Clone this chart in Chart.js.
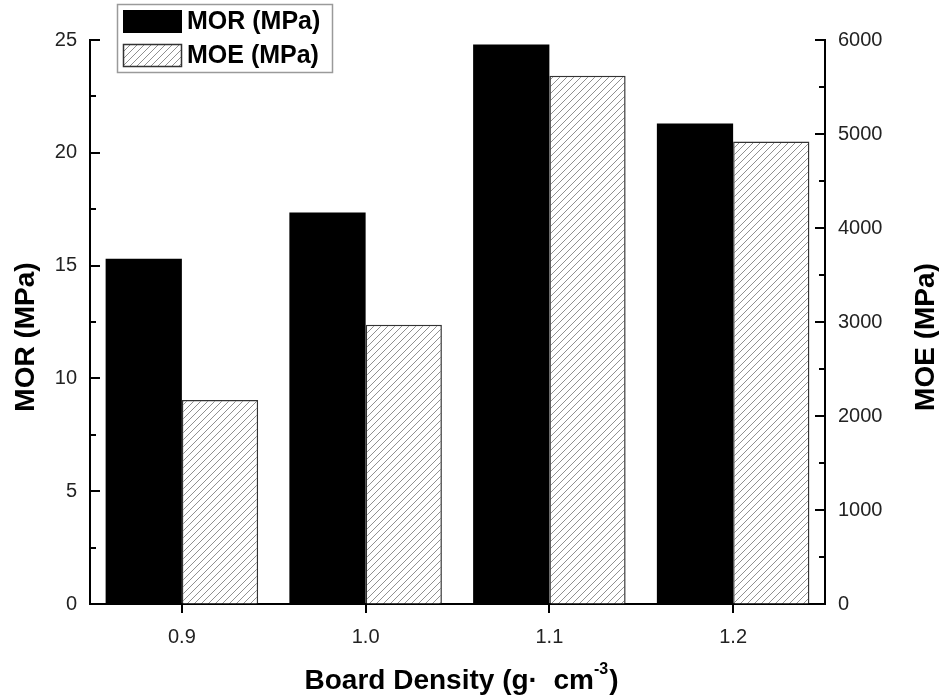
<!DOCTYPE html>
<html><head><meta charset="utf-8">
<script src="https://cdn.jsdelivr.net/npm/chart.js@4"></script>
<style>html,body{margin:0;padding:0;background:#fff;}</style>
</head><body>
<canvas id="c" width="939" height="695"></canvas>
<script>
// ---- data ----
const categories = ['0.9', '1.0', '1.1', '1.2'];
const morValues = [15.3, 17.35, 24.8, 21.3];
const moeValues = [2170, 2970, 5620, 4920];
const seriesLabels = ['MOR (MPa)', 'MOE (MPa)'];
const morAxis = { min: 0, max: 25, step: 5, minorStep: 2.5 };
const moeAxis = { min: 0, max: 6000, step: 1000, minorStep: 500 };
const titles = { left: 'MOR (MPa)', right: 'MOE (MPa)', bottom: 'Board Density (g\u00B7  cm', bottomSup: '-3', bottomEnd: ')' };

const FONT = '"Liberation Sans", Arial, sans-serif';

function makeHatch() {
  const s = 7;
  const c = document.createElement('canvas');
  c.width = s; c.height = s;
  const g = c.getContext('2d');
  g.fillStyle = '#fff'; g.fillRect(0, 0, s, s);
  g.strokeStyle = '#909090'; g.lineWidth = 1;
  g.beginPath();
  g.moveTo(-1, s + 1); g.lineTo(s + 1, -1);
  g.moveTo(-1, 1); g.lineTo(1, -1);
  g.moveTo(s - 1, s + 1); g.lineTo(s + 1, s - 1);
  g.stroke();
  return g.createPattern(c, 'repeat');
}
const hatch = makeHatch();

const inwardTicks = {
  id: 'inwardTicks',
  afterDraw(chart) {
    const ctx = chart.ctx, a = chart.chartArea;
    ctx.save();
    ctx.strokeStyle = '#000'; ctx.lineWidth = 2;
    const ys = chart.scales.y, y2 = chart.scales.y2;
    for (let v = morAxis.min; v <= morAxis.max + 1e-9; v += morAxis.minorStep) {
      const p = Math.round(ys.getPixelForValue(v));
      const len = (Math.abs(v / morAxis.step - Math.round(v / morAxis.step)) < 1e-6) ? 10 : 6;
      ctx.beginPath(); ctx.moveTo(a.left, p); ctx.lineTo(a.left + len, p); ctx.stroke();
    }
    for (let v = moeAxis.min; v <= moeAxis.max + 1e-9; v += moeAxis.minorStep) {
      const p = Math.round(y2.getPixelForValue(v));
      const len = (v % moeAxis.step === 0) ? 10 : 6;
      ctx.beginPath(); ctx.moveTo(a.right, p); ctx.lineTo(a.right - len, p); ctx.stroke();
    }
    ctx.restore();
  }
};

const titlesPlugin = {
  id: 'titlesPlugin',
  afterDraw(chart) {
    const ctx = chart.ctx, a = chart.chartArea;
    ctx.save();
    ctx.fillStyle = '#000';
    ctx.font = 'bold 28px ' + FONT;
    ctx.textAlign = 'center'; ctx.textBaseline = 'middle';
    const cy = (a.top + a.bottom) / 2 + 15;
    ctx.save(); ctx.translate(26, cy); ctx.rotate(-Math.PI / 2); ctx.fillText(titles.left, 0, 0); ctx.restore();
    ctx.save(); ctx.translate(926, cy); ctx.rotate(-Math.PI / 2); ctx.fillText(titles.right, 0, 0); ctx.restore();
    ctx.textBaseline = 'alphabetic'; ctx.textAlign = 'left';
    const mainF = 'bold 28px ' + FONT, supF = 'bold 16px ' + FONT;
    ctx.font = mainF; const w1 = ctx.measureText(titles.bottom).width;
    const w3 = ctx.measureText(titles.bottomEnd).width;
    ctx.font = supF; const w2 = ctx.measureText(titles.bottomSup).width;
    const total = w1 + w2 + w3 + 1;
    let x = (a.left + a.right) / 2 + 4 - total / 2;
    const base = 689;
    ctx.font = mainF; ctx.fillText(titles.bottom, x, base); x += w1;
    ctx.font = supF; ctx.fillText(titles.bottomSup, x, base - 15); x += w2 + 1;
    ctx.font = mainF; ctx.fillText(titles.bottomEnd, x, base);
    ctx.restore();
  }
};

const legendPlugin = {
  id: 'boxLegend',
  afterDraw(chart) {
    const ctx = chart.ctx;
    ctx.save();
    ctx.fillStyle = '#fff';
    ctx.fillRect(117, 4, 215, 68);
    ctx.strokeStyle = '#9a9a9a'; ctx.lineWidth = 1.5;
    ctx.strokeRect(117.5, 4.5, 215, 68);
    const ds = chart.data.datasets;
    const rows = [10, 44];
    ds.forEach((d, i) => {
      const y = rows[i];
      ctx.fillStyle = d.backgroundColor;
      ctx.fillRect(123, y, 59, 23);
      if (d.borderWidth) {
        ctx.strokeStyle = d.borderColor; ctx.lineWidth = d.borderWidth;
        ctx.strokeRect(123.5, y + 0.5, 58, 22);
      }
      ctx.fillStyle = '#000';
      ctx.font = 'bold 25px ' + FONT;
      ctx.textAlign = 'left'; ctx.textBaseline = 'middle';
      ctx.fillText(d.label, 187, y + 12);
    });
    ctx.restore();
  }
};

const tickFont = { family: FONT, size: 20 };

new Chart(document.getElementById('c'), {
  type: 'bar',
  data: {
    labels: categories,
    datasets: [
      { label: seriesLabels[0], data: morValues, yAxisID: 'y', backgroundColor: '#000', borderWidth: 0 },
      { label: seriesLabels[1], data: moeValues, yAxisID: 'y2', backgroundColor: hatch, borderColor: '#333', borderWidth: 1.5 }
    ]
  },
  options: {
    responsive: false,
    animation: false,
    devicePixelRatio: 1,
    categoryPercentage: 0.83,
    barPercentage: 1.0,
    layout: { padding: { top: 40, left: 0, right: 0, bottom: 0 } },
    plugins: { legend: { display: false }, tooltip: { enabled: false } },
    scales: {
      x: {
        z: 1,
        offset: true,
        grid: { display: true, drawOnChartArea: false, drawTicks: true, tickLength: 9, lineWidth: 2, color: '#000', offset: false },
        border: { display: true, color: '#000', width: 2 },
        ticks: { font: tickFont, color: '#222', padding: 12, maxRotation: 0 },
        afterFit(s) { s.height = 91; }
      },
      y: {
        z: 1,
        position: 'left',
        min: morAxis.min, max: morAxis.max,
        grid: { display: true, drawOnChartArea: false, drawTicks: false },
        border: { display: true, color: '#000', width: 2 },
        ticks: { stepSize: morAxis.step, font: tickFont, color: '#222', padding: 13, callback: v => String(v) },
        afterFit(s) { s.width = 90; }
      },
      y2: {
        z: 1,
        position: 'right',
        min: moeAxis.min, max: moeAxis.max,
        grid: { display: true, drawOnChartArea: false, drawTicks: false },
        border: { display: true, color: '#000', width: 2 },
        ticks: { stepSize: moeAxis.step, font: tickFont, color: '#222', padding: 13, callback: v => String(v) },
        afterFit(s) { s.width = 114; }
      }
    }
  },
  plugins: [inwardTicks, titlesPlugin, legendPlugin]
});
</script>
</body></html>
